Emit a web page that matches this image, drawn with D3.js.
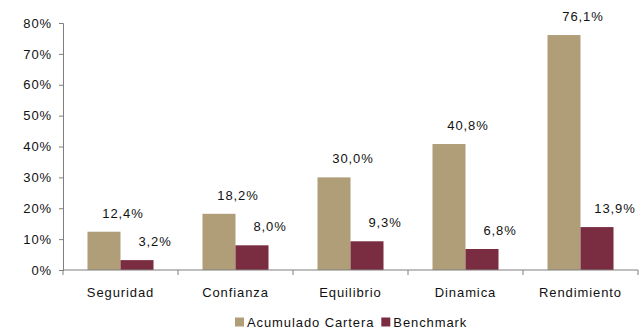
<!DOCTYPE html>
<html>
<head>
<meta charset="utf-8">
<script src="https://cdn.jsdelivr.net/npm/d3@7"></script>
<style>
  body { margin: 0; background: #fff; }
  svg text { font-family: "Liberation Sans", Arial, sans-serif; fill: #111; letter-spacing: 0.9px; }
</style>
</head>
<body>
<svg id="chart"></svg>
<script>
// Chart values (percent)
const categories = ['Seguridad', 'Confianza', 'Equilibrio', 'Dinamica', 'Rendimiento'];
const seriesNames = ['Acumulado Cartera', 'Benchmark'];
const cartera = [12.4, 18.2, 30.0, 40.8, 76.1];
const benchmark = [3.2, 8.0, 9.3, 6.8, 13.9];
const yTicks = [0, 10, 20, 30, 40, 50, 60, 70, 80];

const colors = ['#B09E78', '#7A2D41'];

const width = 642, height = 334;
const margin = {top: 23, right: 4, bottom: 64, left: 63};

const svg = d3.select('#chart')
    .attr('width', width)
    .attr('height', height);

const innerW = width - margin.left - margin.right;
const innerH = height - margin.top - margin.bottom;

const g = svg.append('g')
    .attr('transform', `translate(${margin.left},${margin.top})`);

// Spanish-style decimal comma
const locale = d3.formatLocale({decimal: ',', thousands: '.', grouping: [3], currency: ['', '€']});
const fmtLabel = v => locale.format('.1f')(v) + '%';

const data = categories.map((c, i) => ({cat: c, values: [cartera[i], benchmark[i]]}));

const x0 = d3.scaleBand()
    .domain(categories)
    .range([0, innerW])
    .padding(0);

const x1 = d3.scaleBand()
    .domain(d3.range(seriesNames.length))
    .range([0, x0.bandwidth()])
    .paddingInner(0)
    .paddingOuter(0.742);

const y = d3.scaleLinear()
    .domain([0, 80])
    .range([innerH, 0]);

// Y axis
const yAxisG = g.append('g')
    .call(d3.axisLeft(y).tickValues(yTicks).tickFormat(d => d + '%').tickSize(4).tickPadding(7));
yAxisG.selectAll('.domain, .tick line').attr('stroke', '#7f7f7f');
yAxisG.selectAll('text').style('font-size', '13px').attr('fill', '#111');

// Bars
const groups = g.selectAll('.grp')
    .data(data)
    .join('g')
    .attr('class', 'grp')
    .attr('transform', d => `translate(${x0(d.cat)},0)`);

groups.selectAll('rect')
    .data(d => d.values.map((v, k) => ({k, v})))
    .join('rect')
    .attr('x', d => x1(d.k))
    .attr('y', d => y(d.v))
    .attr('width', x1.bandwidth())
    .attr('height', d => innerH - y(d.v))
    .attr('fill', d => colors[d.k]);

// Value labels (Excel-style, nudged right of bar centre)
const labelDx = [19, 18];
groups.selectAll('text.val')
    .data(d => d.values.map((v, k) => ({k, v})))
    .join('text')
    .attr('class', 'val')
    .attr('x', d => x1(d.k) + x1.bandwidth() / 2 + labelDx[d.k])
    .attr('y', d => y(d.v) - 14)
    .attr('text-anchor', 'middle')
    .style('font-size', '13px')
    .text(d => fmtLabel(d.v));

// X axis with ticks between categories
const xAxisG = g.append('g')
    .attr('transform', `translate(0,${innerH})`);
xAxisG.append('line')
    .attr('x1', 0).attr('x2', innerW)
    .attr('stroke', '#7f7f7f');
xAxisG.selectAll('line.tk')
    .data(categories.concat(['end']))
    .join('line')
    .attr('class', 'tk')
    .attr('x1', (d, i) => i * x0.step())
    .attr('x2', (d, i) => i * x0.step())
    .attr('y1', 0).attr('y2', 5)
    .attr('stroke', '#7f7f7f');
xAxisG.selectAll('text')
    .data(categories)
    .join('text')
    .attr('x', d => x0(d) + x0.bandwidth() / 2)
    .attr('y', 27)
    .attr('text-anchor', 'middle')
    .style('font-size', '13px')
    .text(d => d);

// Legend
const legend = svg.append('g')
    .attr('transform', `translate(235,${height - 12})`);
let lx = 0;
seriesNames.forEach((name, i) => {
    const item = legend.append('g').attr('transform', `translate(${lx},0)`);
    item.append('rect')
        .attr('x', 0).attr('y', -4.5)
        .attr('width', 9).attr('height', 9)
        .attr('fill', colors[i]);
    const t = item.append('text')
        .attr('x', 12).attr('y', 4.5)
        .style('font-size', '13px')
        .text(name);
    lx += 12 + t.node().getComputedTextLength() + 7;
});
</script>
</body>
</html>
